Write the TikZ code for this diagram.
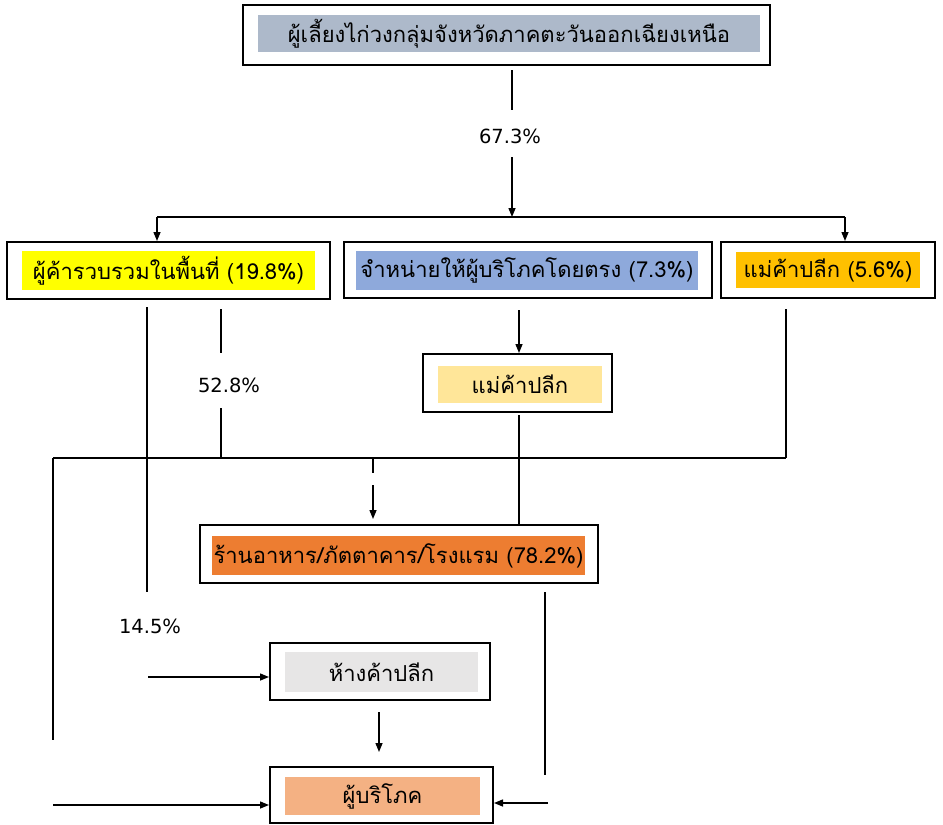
\documentclass[tikz,border=0pt]{standalone}
\usepackage{fontspec}
\newfontfamily\thaifont[Script=Thai]{Loma}
\newfontfamily\pctfont{DejaVu Sans}
\usetikzlibrary{arrows.meta}
\definecolor{topc}{HTML}{ADB9CA}
\definecolor{yelc}{HTML}{FFFF00}
\definecolor{bluc}{HTML}{8EA9DB}
\definecolor{orac}{HTML}{FFC000}
\definecolor{maec}{HTML}{FFE699}
\definecolor{resc}{HTML}{ED7D31}
\definecolor{grac}{HTML}{E7E6E6}
\definecolor{conc}{HTML}{F4B183}
\tikzset{
  outerbox/.style={draw=black, line width=2pt, fill=white, inner sep=0pt},
  innerbox/.style={inner sep=0pt, font=\thaifont\fontsize{22}{26}\selectfont},
  conn/.style={line width=1.4pt},
  arr/.style={line width=1.4pt, -{Triangle[length=9pt,width=7pt]}},
  pct/.style={font=\pctfont\fontsize{19.5}{23}\selectfont, inner sep=0pt}
}
\begin{document}
\begin{tikzpicture}[x=1pt,y=-1pt]
\useasboundingbox (0,0) rectangle (943,825);
% boxes
\node[outerbox, minimum width=527pt, minimum height=60pt] (top) at (506.5,35) {};
\node[innerbox, fill=topc, minimum width=502pt, minimum height=37pt] (topl) at (509,33.5) {ผู้เลี้ยงไก่วงกลุ่มจังหวัดภาคตะวันออกเฉียงเหนือ};

\node[outerbox, minimum width=323pt, minimum height=57pt] (b1) at (168.5,270.5) {};
\node[innerbox, fill=yelc, minimum width=293pt, minimum height=39pt] (b1l) at (168.5,270.5) {ผู้ค้ารวบรวมในพื้นที่ (19.8\%)};

\node[outerbox, minimum width=368pt, minimum height=56pt] (b2) at (528,270) {};
\node[innerbox, fill=bluc, minimum width=342pt, minimum height=39pt] (b2l) at (527,270.5) {จำหน่ายให้ผู้บริโภคโดยตรง (7.3\%)};

\node[outerbox, minimum width=214pt, minimum height=56pt] (b3) at (828,270) {};
\node[innerbox, fill=orac, minimum width=184pt, minimum height=36pt] (b3l) at (828,270) {แม่ค้าปลีก (5.6\%)};

\node[outerbox, minimum width=189pt, minimum height=58pt] (mae) at (517.5,383) {};
\node[innerbox, fill=maec, minimum width=164pt, minimum height=37pt] (mael) at (520,384.5) {แม่ค้าปลีก};

\node[outerbox, minimum width=398pt, minimum height=58pt] (b4) at (399,554) {};
\node[innerbox, fill=resc, minimum width=373pt, minimum height=39pt] (b4l) at (398.5,555.5) {ร้านอาหาร/ภัตตาคาร/โรงแรม (78.2\%)};

\node[outerbox, minimum width=220pt, minimum height=57pt] (haang) at (380,671.5) {};
\node[innerbox, fill=grac, minimum width=193pt, minimum height=40pt] (haangl) at (381.5,672) {ห้างค้าปลีก};

\node[outerbox, minimum width=223pt, minimum height=56pt] (cons) at (381.5,795) {};
\node[innerbox, fill=conc, minimum width=195pt, minimum height=38pt] (consl) at (382.5,796) {ผู้บริโภค};

% percentage labels
\node[pct] (p67) at (510,136) {67.3\%};
\node[pct] (p52) at (229,385) {52.8\%};
\node[pct] (p14) at (150,626) {14.5\%};

% coordinates
\coordinate (t1) at (512,70);
\coordinate (t2) at (512,110);
\coordinate (t3) at (512,157);
\coordinate (split) at (512,217);
\coordinate (hl) at (157,217);
\coordinate (hr) at (845,217);

\coordinate (c2) at (519,310);
\coordinate (c3) at (519,415);

\coordinate (d1) at (147,307);
\coordinate (d2) at (147,592);
\coordinate (d3) at (148,677);

\coordinate (e1) at (221,309);
\coordinate (e2) at (221,353);
\coordinate (e3) at (221,408);
\coordinate (e4) at (221,458);

\coordinate (ml) at (53,458);
\coordinate (mr) at (786,458);
\coordinate (f1) at (786,309);

\coordinate (g1) at (373,458);
\coordinate (g2) at (373,473);
\coordinate (g3) at (373,485);
\coordinate (g4) at (373,519);

\coordinate (l1) at (53,740);
\coordinate (l2) at (53,805);

\coordinate (r1) at (545,592);
\coordinate (r2) at (545,775);
\coordinate (r3) at (548,803);

\coordinate (k1) at (379,712);
\coordinate (k2) at (379,752);

% connectors
\draw[conn] (t1) -- (t2);
\draw[arr] (t3) -- (split);
\draw[conn] (hl) -- (hr);
\draw[arr] (hl) -- (hl |- b1.north);
\draw[arr] (hr) -- (hr |- b3.north);

\draw[arr] (c2) -- (c2 |- mae.north);
\draw[conn] (c3) -- (c3 |- b4.north);

\draw[conn] (d1) -- (d2);
\draw[arr] (d3) -- (d3 -| haang.west);

\draw[conn] (e1) -- (e2);
\draw[conn] (e3) -- (e4);

\draw[conn] (ml) -- (mr);
\draw[conn] (f1) -- (mr);

\draw[conn] (g1) -- (g2);
\draw[arr] (g3) -- (g4);

\draw[conn] (ml) -- (l1);
\draw[arr] (l2) -- (l2 -| cons.west);

\draw[conn] (r1) -- (r2);
\draw[arr] (r3) -- (r3 -| cons.east);

\draw[arr] (k1) -- (k2);
\end{tikzpicture}
\end{document}
